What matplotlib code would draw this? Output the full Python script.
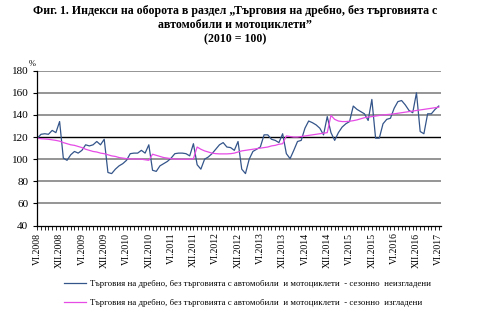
import numpy as np
import matplotlib
matplotlib.use('Agg')
import matplotlib.pyplot as plt
from matplotlib.ticker import MultipleLocator

plt.rcParams['font.family'] = ['Liberation Serif', 'DejaVu Serif']

# Етикети по оста X (през 6 месеца, VI.2008 - VI.2017)
tick_labels = ['VI.2008', 'XII.2008', 'VI.2009', 'XII.2009', 'VI.2010', 'XII.2010',
               'VI.2011', 'XII.2011', 'VI.2012', 'XII.2012', 'VI.2013', 'XII.2013',
               'VI.2014', 'XII.2014', 'VI.2015', 'XII.2015', 'VI.2016', 'XII.2016',
               'VI.2017']

# Сезонно неизгладени (месечни стойности)
raw = [119, 122.5, 123, 122.5, 126, 124, 134, 101, 99, 104, 107, 105.5,
       108, 113, 112, 113, 116, 113, 118, 88, 87, 91, 94, 96,
       99, 105, 105.5, 105.5, 108, 105.5, 113, 90, 89, 94, 96, 98,
       101, 105, 105.5, 105.5, 105, 103, 114, 95, 91, 100, 102, 105,
       109, 113, 115, 111, 110.5, 108, 116, 91, 87, 100, 107, 109,
       111, 122, 122, 118, 117, 115, 123, 105, 100.5, 108, 116, 117,
       128, 134.5, 133, 131, 128, 122, 138.5, 124, 117, 124, 129, 132,
       134, 148, 145, 143, 141, 135, 154, 119, 119, 132, 136, 137,
       146, 152, 153, 149, 144, 142, 160, 125, 123, 141, 141, 145,
       148]

# Сезонно изгладени
adj = [119, 118.5, 118.3, 118, 117.5, 117, 116.3, 115, 114, 113, 112.5, 111.5,
       110.5, 109, 108, 107, 106.5, 105.5, 105, 104, 103, 102.5, 101.5, 101,
       100.5, 100.3, 100.2, 100.2, 100, 99.5, 99, 104.5, 103.5, 102.5, 101.5, 101,
       100.5, 100.2, 100, 100, 100, 100, 100.5, 111, 109, 107.5, 106.5, 105.5,
       105, 104.8, 104.8, 104.8, 105, 105.5, 106.5, 107.5, 108, 108.5, 109, 109.5,
       110, 110.5, 111, 112, 112.5, 113.5, 114, 121, 120.5, 120, 120, 120.5,
       121, 121.5, 122, 122.5, 123, 123.5, 124, 139.5, 136, 134.5, 134, 134,
       134.3, 134.8, 135.5, 136.5, 137.5, 138, 138.5, 139, 139.5, 140, 140.3, 140.6,
       141, 141.5, 142, 142.5, 143, 143.5, 144, 144.5, 145, 145.5, 146, 146.5,
       147]

months = np.arange(len(raw))

fig = plt.figure(figsize=(5.0, 3.27), dpi=100)
ax = fig.add_axes([0.0746, 0.31, 0.8074, 0.474])

ax.plot(months, raw, color='#34558A', lw=0.9,
        label='Търговия на дребно, без търговията с автомобили  и мотоциклети  - сезонно  неизгладени')
ax.plot(months, adj, color='#E64BE6', lw=0.9,
        label='Търговия на дребно, без търговията с автомобили  и мотоциклети  - сезонно  изгладени')

ax.set_ylim(40, 180)
ax.set_xlim(0, 108.6)
ax.set_yticks(range(40, 181, 20))
ax.set_xticks(np.arange(0, len(raw), 6))
ax.set_xticklabels(tick_labels, rotation=90, fontsize=7)
ax.xaxis.set_minor_locator(MultipleLocator(1))
ax.tick_params(axis='y', labelsize=8, length=3, width=0.8)
ax.tick_params(axis='x', which='both', length=3, width=0.6, pad=2)

for v in range(60, 181, 20):
    if v == 120:
        ax.axhline(v, color='black', lw=1.0, zorder=0)
    else:
        ax.axhline(v, color='#8C8C8C', lw=1.3, zorder=0)

for s in ['top', 'right']:
    ax.spines[s].set_visible(False)
ax.spines['left'].set_linewidth(0.9)
ax.spines['bottom'].set_linewidth(0.9)

ax.text(-0.02, 1.03, '%', transform=ax.transAxes, fontsize=6)

fig.text(0.47, 0.985, 'Фиг. 1. Индекси на оборота в раздел „Търговия на дребно, без търговията с\n'
         'автомобили и мотоциклети”\n(2010 = 100)',
         ha='center', va='top', fontsize=8.6, fontweight='bold', linespacing=1.25)

fig.legend(loc='upper left', bbox_to_anchor=(0.12, 0.155), frameon=False,
           fontsize=6.3, handlelength=2.6, handletextpad=0.4, labelspacing=1.3,
           borderaxespad=0)

fig.savefig('out.png', dpi=100)
